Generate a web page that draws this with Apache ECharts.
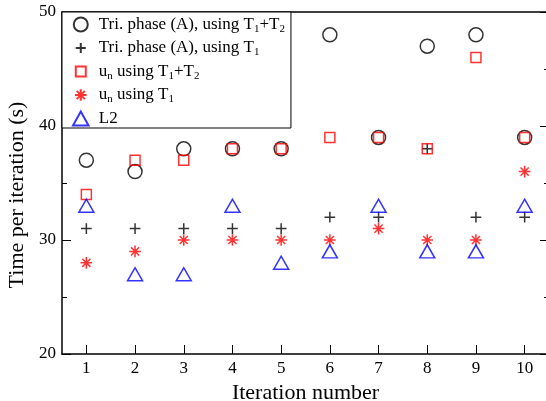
<!DOCTYPE html>
<html>
<head>
<meta charset="utf-8">
<script src="https://cdn.jsdelivr.net/npm/echarts@6/dist/echarts.min.js"></script>
<style>html,body{margin:0;padding:0;background:#fff}#c{width:546px;height:401px}</style>
</head>
<body>
<div id="c"></div>
<script>
var iterations = [1, 2, 3, 4, 5, 6, 7, 8, 9, 10];
var triT1T2 = [37, 36, 38, 38, 38, 48, 39, 47, 48, 39];
var triT1 = [31, 31, 31, 31, 31, 32, 32, 38, 32, 32];
var unT1T2 = [34, 37, 37, 38, 38, 39, 39, 38, 46, 39];
var unT1 = [28, 29, 30, 30, 30, 30, 31, 30, 30, 36];
var l2 = [33, 27, 27, 33, 28, 29, 33, 29, 29, 33];
var xTicks = [1, 2, 3, 4, 5, 6, 7, 8, 9, 10];
var seriesNames = ['triT1T2', 'triT1', 'unT1T2', 'unT1', 'L2'];
var legendLabels = {
  triT1T2: '{t|Tri. phase (A), using T}{s|1}{t|+T}{s|2}',
  triT1: '{t|Tri. phase (A), using T}{s|1}',
  unT1T2: '{t|u}{s|n}{t| using T}{s|1}{t|+T}{s|2}',
  unT1: '{t|u}{s|n}{t| using T}{s|1}',
  L2: '{t|L2}'
};

var FONT = 'Liberation Serif';
var CIRCLE = 'path://M10,5 A5,5 0 1 1 0,5 A5,5 0 1 1 10,5 Z';
var PLUS = 'path://M-2,-2 M12,12 M0,5 L10,5 M5,0 L5,10';
var SQUARE = 'path://M-2,-2 M12,12 M0,0 L10,0 L10,10 L0,10 Z';
var STAR = 'path://M-1,-1 M11,11 M5,0 L5,10 M0,5 L10,5 M1.5,1.5 L8.5,8.5 M8.5,1.5 L1.5,8.5';
var TRI = 'path://M5,0 L10,9 L0,9 Z';

function pts(arr) { return iterations.map(function (x, i) { return [x, arr[i]]; }); }
function mk(name, data, symbol, size, color) {
  return {
    name: name, type: 'scatter', data: pts(data), symbol: symbol, symbolSize: size,
    itemStyle: { color: 'transparent', borderColor: color, borderWidth: 1.5 },
    emphasis: { disabled: true }, silent: true
  };
}

var chart = echarts.init(document.getElementById('c'), null, { renderer: 'canvas' });
var axisLineStyle = { color: '#000', width: 1.5 };
chart.setOption({
  animation: false,
  backgroundColor: '#fff',
  grid: { left: 62, top: 12, width: 487, height: 342, outerBoundsMode: 'none', containLabel: false },
  legend: {
    orient: 'vertical', left: 62, top: 12,
    padding: [4, 6, 1, 10], itemGap: 5, itemWidth: 26, itemHeight: 14,
    borderColor: '#000', borderWidth: 1, backgroundColor: '#fff',
    data: seriesNames,
    formatter: function (n) { return legendLabels[n]; },
    textStyle: {
      rich: {
        t: { fontFamily: FONT, fontSize: 17, color: '#000', lineHeight: 19, verticalAlign: 'middle' },
        s: { fontFamily: FONT, fontSize: 11, color: '#000', lineHeight: 20, verticalAlign: 'bottom' }
      }
    },
    selectedMode: false
  },
  xAxis: [{
    type: 'value', min: 0.5, max: 10.5, position: 'bottom',
    name: 'Iteration number', nameLocation: 'middle', nameGap: 17,
    nameTextStyle: { fontFamily: FONT, fontSize: 22, color: '#000' },
    axisLine: { show: true, lineStyle: axisLineStyle },
    axisTick: { show: true, inside: true, length: 9, lineStyle: { color: '#000' }, customValues: xTicks },
    axisLabel: { fontFamily: FONT, fontSize: 17, color: '#000', margin: 6, customValues: xTicks },
    splitLine: { show: false }
  }, {
    type: 'value', min: 0.5, max: 10.5, position: 'top',
    axisLine: { show: true, lineStyle: axisLineStyle },
    axisTick: { show: false }, axisLabel: { show: false }, splitLine: { show: false }
  }],
  yAxis: [{
    type: 'value', min: 20, max: 50, interval: 10, position: 'left',
    name: 'Time per iteration (s)', nameLocation: 'middle', nameGap: 34,
    nameTextStyle: { fontFamily: FONT, fontSize: 22, color: '#000', padding: [0, 24, 0, 0] },
    axisLine: { show: true, lineStyle: axisLineStyle },
    axisTick: { show: true, inside: true, length: 9, lineStyle: { color: '#000' } },
    minorTick: { show: true, splitNumber: 2, length: 5, lineStyle: { color: '#000' } },
    axisLabel: { fontFamily: FONT, fontSize: 17, color: '#000', margin: 6 },
    splitLine: { show: false }
  }, {
    type: 'value', min: 20, max: 50, interval: 10, position: 'right',
    axisLine: { show: true, lineStyle: axisLineStyle },
    axisTick: { show: true, inside: true, length: 9, lineStyle: { color: '#000' } },
    minorTick: { show: true, splitNumber: 2, length: 5, lineStyle: { color: '#000' } },
    axisLabel: { show: false },
    splitLine: { show: false }
  }],
  series: [
    mk('triT1T2', triT1T2, CIRCLE, 14, '#000'),
    mk('triT1', triT1, PLUS, 15, '#000'),
    mk('unT1T2', unT1T2, SQUARE, 14, '#ff0000'),
    mk('unT1', unT1, STAR, 14, '#ff0000'),
    mk('L2', l2, TRI, [15, 13], '#0000ff')
  ]
});
</script>
</body>
</html>
